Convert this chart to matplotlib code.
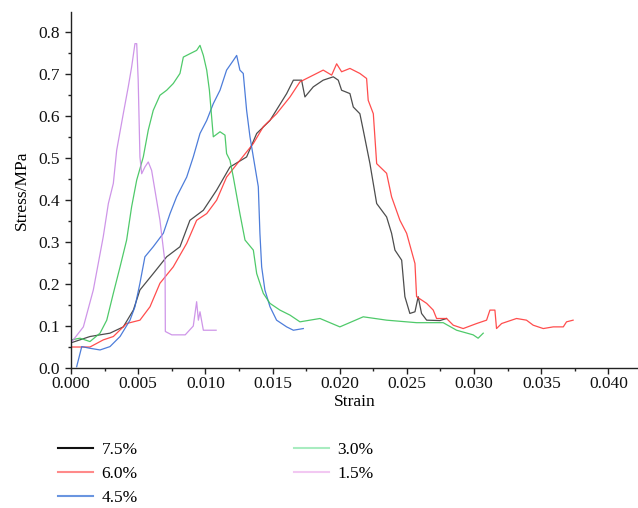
import matplotlib
matplotlib.use("Agg")
import matplotlib.pyplot as plt
from matplotlib.lines import Line2D
from matplotlib.ticker import MultipleLocator

plt.rcParams['font.family'] = ['Liberation Serif', 'DejaVu Serif']

labels = ["7.5%", "6.0%", "4.5%", "3.0%", "1.5%"]

strain_75 = [0.0, 0.00141, 0.0029, 0.00389, 0.00464, 0.00513, 0.00612, 0.00712, 0.00811, 0.00885,
             0.00985, 0.01084, 0.01183, 0.01307, 0.01382, 0.01481, 0.01605, 0.01655, 0.01716, 0.01741,
             0.01803, 0.01877, 0.01952, 0.01989, 0.02014, 0.02076, 0.02101, 0.0215, 0.02175, 0.022,
             0.02225, 0.02237, 0.02275, 0.02349, 0.02386, 0.02411, 0.02461, 0.02485, 0.02522, 0.0256,
             0.02584, 0.02609, 0.02647, 0.02746, 0.02795]
stress_75 = [0.06, 0.075, 0.083, 0.098, 0.138, 0.186, 0.225, 0.265, 0.289, 0.352,
             0.376, 0.424, 0.479, 0.503, 0.559, 0.59, 0.654, 0.686, 0.686, 0.646,
             0.67, 0.686, 0.694, 0.686, 0.662, 0.654, 0.622, 0.606, 0.567, 0.527,
             0.487, 0.464, 0.392, 0.36, 0.321, 0.281, 0.257, 0.17, 0.13, 0.134,
             0.17, 0.13, 0.114, 0.113, 0.118]

strain_60 = [0.0, 0.00141, 0.0024, 0.00315, 0.00414, 0.00513, 0.00588, 0.00662, 0.00761, 0.00861,
             0.00935, 0.0101, 0.01084, 0.01158, 0.01257, 0.01357, 0.01431, 0.0153, 0.0163, 0.01704,
             0.01828, 0.01877, 0.0194, 0.01977, 0.02014, 0.02076, 0.0215, 0.022, 0.02212, 0.0225,
             0.02275, 0.02349, 0.02386, 0.02448, 0.02498, 0.0256, 0.02572, 0.02647, 0.02696, 0.02721,
             0.02795, 0.02845, 0.02919, 0.03019, 0.03093, 0.03118, 0.03155, 0.03167, 0.03205, 0.03242,
             0.03316, 0.0339, 0.0344, 0.03515, 0.03589, 0.03664, 0.03688, 0.03737]
stress_60 = [0.05, 0.05, 0.067, 0.075, 0.106, 0.114, 0.146, 0.202, 0.241, 0.297,
             0.352, 0.368, 0.4, 0.455, 0.495, 0.535, 0.575, 0.606, 0.646, 0.682,
             0.702, 0.71, 0.698, 0.725, 0.706, 0.714, 0.702, 0.69, 0.638, 0.606,
             0.487, 0.464, 0.408, 0.352, 0.321, 0.249, 0.17, 0.154, 0.138, 0.118,
             0.118, 0.102, 0.094, 0.106, 0.114, 0.138, 0.138, 0.094, 0.106, 0.11,
             0.118, 0.114, 0.102, 0.094, 0.098, 0.098, 0.11, 0.114]

strain_45 = [0.00042, 0.0008, 0.00141, 0.00216, 0.0029, 0.00365, 0.00439, 0.00476, 0.00513, 0.0055,
             0.00612, 0.00687, 0.00737, 0.00786, 0.00861, 0.0091, 0.0096, 0.0101, 0.01059, 0.01109,
             0.01158, 0.01208, 0.01233, 0.01257, 0.01282, 0.01307, 0.01332, 0.01357, 0.01394, 0.01406,
             0.01419, 0.01443, 0.01481, 0.0153, 0.01605, 0.01655, 0.01729]
stress_45 = [0.003, 0.051, 0.047, 0.043, 0.051, 0.075, 0.114, 0.146, 0.202, 0.265,
             0.289, 0.321, 0.368, 0.408, 0.455, 0.503, 0.559, 0.59, 0.63, 0.662,
             0.71, 0.733, 0.745, 0.71, 0.702, 0.614, 0.551, 0.503, 0.432, 0.321,
             0.241, 0.186, 0.146, 0.114, 0.098, 0.09, 0.094]

strain_30 = [0.0, 0.00067, 0.00141, 0.00216, 0.00266, 0.00315, 0.00365, 0.00414, 0.00451, 0.00489,
             0.00538, 0.00575, 0.00612, 0.00662, 0.00712, 0.00761, 0.00811, 0.00836, 0.00885, 0.00935,
             0.0096, 0.00985, 0.0101, 0.0103, 0.01059, 0.01109, 0.01146, 0.01158, 0.01183, 0.01208,
             0.01257, 0.01295, 0.01357, 0.01382, 0.01431, 0.01481, 0.01555, 0.0163, 0.01704, 0.01853,
             0.02001, 0.02175, 0.02349, 0.02572, 0.0277, 0.0287, 0.02993, 0.0303, 0.03068]
stress_30 = [0.067, 0.071, 0.063, 0.083, 0.114, 0.178, 0.241, 0.305, 0.384, 0.448,
             0.503, 0.567, 0.614, 0.65, 0.662, 0.678, 0.702, 0.741, 0.749, 0.757,
             0.769, 0.745, 0.71, 0.662, 0.551, 0.563, 0.555, 0.511, 0.495, 0.455,
             0.368, 0.305, 0.281, 0.225, 0.178, 0.154, 0.138, 0.126, 0.11, 0.118,
             0.098, 0.122, 0.114, 0.108, 0.108, 0.09, 0.079, 0.071, 0.083]

strain_15 = [0.0, 0.00092, 0.00166, 0.0024, 0.00278, 0.00315, 0.0034, 0.00389, 0.00426, 0.00451,
             0.00476, 0.00489, 0.005, 0.00513, 0.00526, 0.0055, 0.00575, 0.006, 0.00612, 0.00662,
             0.007, 0.00702, 0.0075, 0.0085, 0.0091, 0.00935, 0.00948, 0.0096, 0.00985, 0.0108]
stress_15 = [0.06, 0.098, 0.186, 0.313, 0.392, 0.44, 0.519, 0.606, 0.67, 0.717,
             0.773, 0.773, 0.686, 0.503, 0.463, 0.479, 0.491, 0.471, 0.448, 0.352,
             0.25, 0.087, 0.079, 0.079, 0.1, 0.158, 0.114, 0.134, 0.09, 0.09]

series = [(strain_75, stress_75), (strain_60, stress_60), (strain_45, stress_45),
          (strain_30, stress_30), (strain_15, stress_15)]
line_colors = ["#3a3a3a", "#ff3a3a", "#3a6fd6", "#3cc45a", "#c98ae6"]
legend_colors = ["#111111", "#ff8a8a", "#6a95e0", "#a8ecc0", "#f2c8f2"]

fig = plt.figure(figsize=(6.38, 5.08), dpi=100)
ax = fig.add_axes([0.1113, 0.2756, 0.8887, 0.7004])

for (x, y), c in zip(series, line_colors):
    ax.plot(x, y, color=c, lw=0.9, alpha=0.9)

ax.set_xlim(0, 0.0422)
ax.set_ylim(0, 0.848)
ax.xaxis.set_major_locator(MultipleLocator(0.005))
ax.xaxis.set_minor_locator(MultipleLocator(0.0025))
ax.yaxis.set_major_locator(MultipleLocator(0.1))
ax.yaxis.set_minor_locator(MultipleLocator(0.05))
ax.set_xticks([0.0, 0.005, 0.01, 0.015, 0.02, 0.025, 0.03, 0.035, 0.04])
ax.set_xticklabels(["0.000", "0.005", "0.010", "0.015", "0.020", "0.025", "0.030", "0.035", "0.040"])
ax.set_yticks([0.0, 0.1, 0.2, 0.3, 0.4, 0.5, 0.6, 0.7, 0.8])
ax.set_yticklabels(["0.0", "0.1", "0.2", "0.3", "0.4", "0.5", "0.6", "0.7", "0.8"])

for s in ["top", "right"]:
    ax.spines[s].set_visible(False)
for s in ["left", "bottom"]:
    ax.spines[s].set_color("#222222")
    ax.spines[s].set_linewidth(1.0)
ax.tick_params(which="major", direction="out", length=4, width=1, labelsize=12.5, pad=2, colors="#222222")
ax.tick_params(which="minor", direction="out", length=2.5, width=1, colors="#222222")
ax.tick_params(axis="y", which="major", pad=4)
for t in ax.get_xticklabels() + ax.get_yticklabels():
    t.set_color("#111111")

ax.set_xlabel("Strain", fontsize=12.5, labelpad=1)
ax.set_ylabel("Stress/MPa", fontsize=12.5, labelpad=6)

handles = [Line2D([], [], color=c, lw=1.5) for c in legend_colors]
fig.legend(handles, labels, loc="upper left", bbox_to_anchor=(0.091, 0.131),
           ncol=2, frameon=False, fontsize=12.5, handlelength=2.0, handletextpad=0.5,
           columnspacing=9.0, labelspacing=0.46, borderpad=0, borderaxespad=0)

fig.savefig("out.png", dpi=100)
